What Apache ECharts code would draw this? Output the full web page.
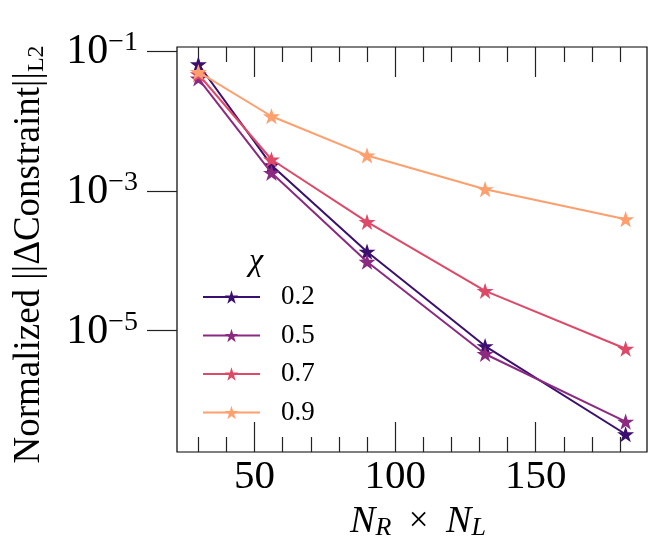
<!DOCTYPE html>
<html><head><meta charset="utf-8">
<script src="https://cdn.jsdelivr.net/npm/echarts@6/dist/echarts.min.js"></script>
<style>html,body{margin:0;padding:0;background:#fff}#c{width:664px;height:554px}</style>
</head><body><div id="c"></div>
<script>
// ---- data ----
const xValues = [30, 56, 90, 132, 182];            // N_R x N_L
const chiLabels = ['0.2', '0.5', '0.7', '0.9'];
const chi02 = [0.0646, 0.00233, 1.35e-4, 6.04e-6, 3.31e-7];
const chi05 = [0.0404, 0.00181, 9.68e-5, 4.65e-6, 5.01e-7];
const chi07 = [0.0465, 0.00281, 3.61e-4, 3.72e-5, 5.53e-6];
const chi09 = [0.0501, 0.01167, 0.00321, 0.001057, 3.94e-4];
const yTickValues = [1e-1, 1e-3, 1e-5];
const xMajorTicks = [50, 100, 150];
const xMinorTicks = [30, 40, 60, 70, 80, 90, 110, 120, 130, 140, 160, 170, 180];
const colors = ['#3b0f70', '#8c2981', '#de4968', '#fe9f6d'];

const seriesValues = [chi02, chi05, chi07, chi09];
const FONT = 'Liberation Serif';

function starPath() {
  const pts = [];
  for (let i = 0; i < 10; i++) {
    const r = i % 2 === 0 ? 10 : 3.82;
    const a = -Math.PI / 2 + i * Math.PI / 5;
    pts.push((r * Math.cos(a)).toFixed(3) + ',' + (r * Math.sin(a)).toFixed(3));
  }
  return 'path://M' + pts.join('L') + 'Z';
}
const STAR = starPath();

const xMin = 22.4, xMax = 189.6;
const yMin = Math.pow(10, -6.734), yMax = Math.pow(10, -0.943);
const gridRect = { left: 177, right: 17, top: 47, bottom: 102 };
const tickStyle = { color: '#222', width: 1.2 };

const chart = echarts.init(document.getElementById('c'), null, { renderer: 'canvas' });
chart.setOption({
  animation: false,
  backgroundColor: '#fff',
  title: {
    text: 'χ', left: 249, top: 246, padding: 0,
    textStyle: { fontFamily: FONT, fontStyle: 'italic', fontWeight: 'normal', fontSize: 32, color: '#000' }
  },
  legend: {
    data: chiLabels, orient: 'vertical', left: 202, top: 283, padding: 0,
    itemWidth: 57, itemHeight: 17, itemGap: 10.5,
    textStyle: { fontFamily: FONT, fontSize: 27, color: '#000', lineHeight: 28, padding: [0, 0, 0, 16] }
  },
  grid: [
    Object.assign({ show: true, borderColor: '#000', borderWidth: 1.2, backgroundColor: 'transparent', containLabel: false, outerBoundsMode: 'none' }, gridRect),
    Object.assign({ show: false, containLabel: false, outerBoundsMode: 'none' }, gridRect)
  ],
  xAxis: [
    {
      type: 'value', gridIndex: 0, position: 'bottom', min: xMin, max: xMax,
      splitLine: { show: false },
      axisLine: { show: false },
      axisTick: { show: true, inside: true, length: 30, customValues: xMajorTicks, lineStyle: tickStyle },
      axisLabel: { customValues: xMajorTicks, margin: 5, fontFamily: FONT, fontSize: 41, color: '#000' },
      name: '{i|N}{sr|R}{t|  ×  }{i|N}{sl|L}', nameLocation: 'middle', nameGap: 43,
      nameTextStyle: {
        fontFamily: FONT, fontSize: 38, color: '#000', padding: [0, 0, 0, 12],
        rich: {
          i: { fontFamily: FONT, fontStyle: 'italic', fontSize: 38, lineHeight: 38, color: '#000' },
          t: { fontFamily: FONT, fontSize: 35, lineHeight: 38, color: '#000' },
          sr: { fontFamily: FONT, fontStyle: 'italic', fontSize: 26, lineHeight: 16, verticalAlign: 'bottom', color: '#000' },
          sl: { fontFamily: FONT, fontStyle: 'italic', fontSize: 26, lineHeight: 16, verticalAlign: 'bottom', color: '#000' }
        }
      }
    },
    {
      type: 'value', gridIndex: 0, position: 'top', min: xMin, max: xMax,
      splitLine: { show: false }, axisLine: { show: false },
      axisTick: { show: true, inside: true, length: 30, customValues: xMajorTicks, lineStyle: tickStyle },
      axisLabel: { show: false }
    },
    {
      type: 'value', gridIndex: 1, position: 'bottom', min: xMin, max: xMax,
      splitLine: { show: false }, axisLine: { show: false },
      axisTick: { show: true, inside: true, length: 15, customValues: xMinorTicks, lineStyle: tickStyle },
      axisLabel: { show: false }
    },
    {
      type: 'value', gridIndex: 1, position: 'top', min: xMin, max: xMax,
      splitLine: { show: false }, axisLine: { show: false },
      axisTick: { show: true, inside: true, length: 15, customValues: xMinorTicks, lineStyle: tickStyle },
      axisLabel: { show: false }
    }
  ],
  yAxis: [
    {
      type: 'log', gridIndex: 0, position: 'left', min: yMin, max: yMax,
      splitLine: { show: false }, axisLine: { show: false },
      axisTick: { show: true, inside: false, length: 30, customValues: yTickValues, lineStyle: tickStyle },
      minorTick: { show: false },
      axisLabel: {
        customValues: yTickValues, margin: 39,
        formatter: function (v) {
          const e = Math.round(Math.log10(v));
          return '{b|10}{s|' + (e < 0 ? '−' : '') + Math.abs(e) + '}';
        },
        rich: {
          b: { fontFamily: FONT, fontSize: 42, lineHeight: 44, verticalAlign: 'bottom', color: '#000' },
          s: { fontFamily: FONT, fontSize: 28, lineHeight: 28, verticalAlign: 'top', color: '#000' }
        }
      },
      name: '{m|Normalized ||ΔConstraint||}{sub|L2}', nameLocation: 'middle', nameGap: 128,
      nameTextStyle: {
        fontFamily: FONT, fontSize: 37, color: '#000', padding: [0, 10, 0, 0],
        rich: {
          m: { fontFamily: FONT, fontSize: 37, lineHeight: 40, color: '#000' },
          sub: { fontFamily: FONT, fontSize: 24, lineHeight: 16, verticalAlign: 'bottom', color: '#000' }
        }
      }
    },
    { type: 'log', gridIndex: 1, min: yMin, max: yMax, show: false }
  ],
  series: seriesValues.map(function (vals, k) {
    return {
      name: chiLabels[k], type: 'line', xAxisIndex: 0, yAxisIndex: 0,
      data: xValues.map(function (x, i) { return [x, vals[i]]; }),
      symbol: STAR, symbolSize: 17, symbolKeepAspect: true, showAllSymbol: true,
      lineStyle: { color: colors[k], width: 2 },
      itemStyle: { color: colors[k] },
      z: 2 + k
    };
  })
});
</script></body></html>
